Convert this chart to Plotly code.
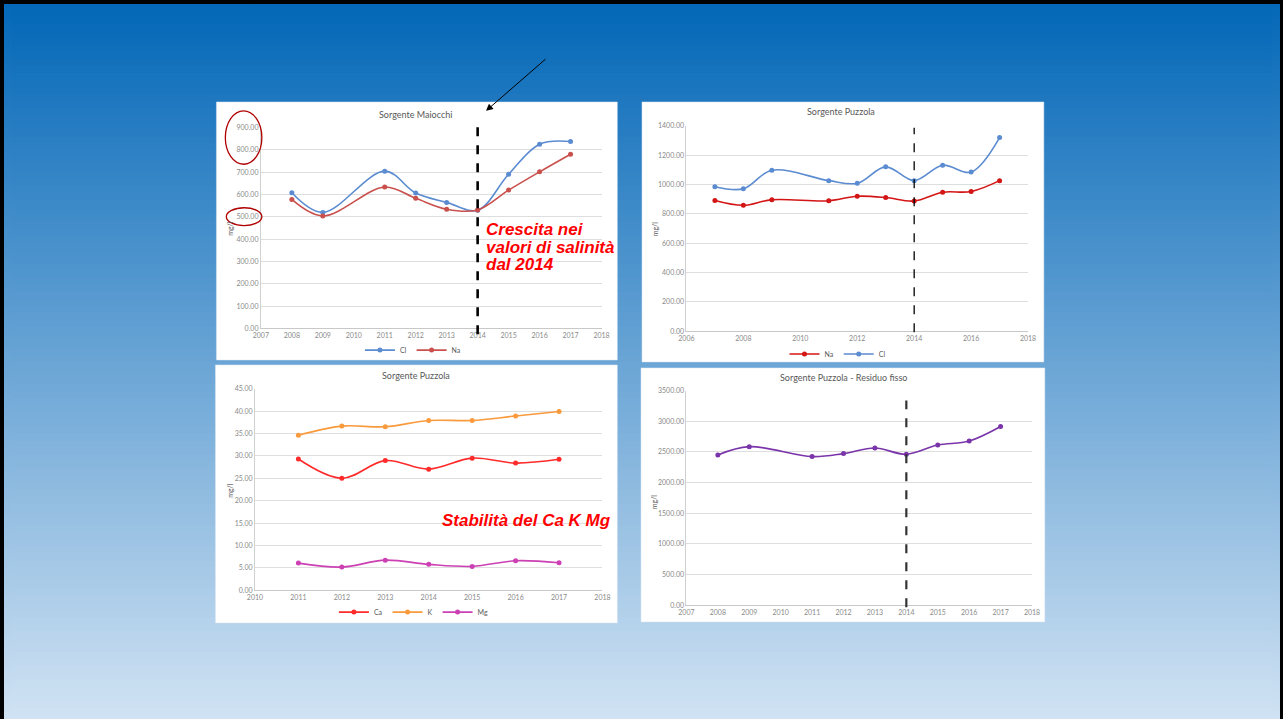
import plotly.graph_objects as go

# ---------------- data ----------------
BREAK_YEAR = 2014

# Sorgente Maiocchi
mai_years = [2008, 2009, 2011, 2012, 2013, 2014, 2015, 2016, 2017]
mai_cl = [608, 520, 705, 607, 565, 530, 691, 826, 838]
mai_na = [578, 504, 634, 583, 534, 531, 620, 702, 781]

# Sorgente Puzzola (Na, Cl)
puz_years = [2007, 2008, 2009, 2011, 2012, 2013, 2014, 2015, 2016, 2017]
puz_na = [891, 858, 896, 889, 920, 911, 887, 947, 952, 1026]
puz_cl = [985, 970, 1097, 1026, 1008, 1120, 1026, 1131, 1084, 1319]

# Sorgente Puzzola (Ca, K, Mg)
ion_years = [2011, 2012, 2013, 2014, 2015, 2016, 2017]
ion_ca = [29.3, 25.0, 28.95, 27.05, 29.5, 28.4, 29.25]
ion_k = [34.6, 36.65, 36.5, 37.9, 37.9, 38.9, 39.9]
ion_mg = [6.08, 5.2, 6.74, 5.8, 5.35, 6.6, 6.16]

# Sorgente Puzzola - Residuo fisso
res_years = [2008, 2009, 2011, 2012, 2013, 2014, 2015, 2016, 2017]
res_val = [2452, 2586, 2425, 2473, 2565, 2462, 2613, 2677, 2914]

# ---------------- layout helpers ----------------
# The page keeps the browser's default 8px body margin, so the figure is
# sized to fit inside it and positions are given in window pixels.
OFF = 8
W, H = 1283 - 2 * OFF, 719 - 2 * OFF

TOP_C = (4, 104, 184)
BOT_C = (208, 226, 243)


def fx(x):
    return (x - OFF) / W


def fy(y):
    return 1 - (y - OFF) / H


FONT = "Lato, 'Open Sans', sans-serif"
TICK_FONT = dict(family=FONT, size=7, color="#8a8a8a")

fig = go.Figure()


def add_series(x, y, name, color, xa, ya, legend, showlegend=True):
    fig.add_trace(go.Scatter(
        x=x, y=y, name=name, mode="lines+markers",
        line=dict(color=color, width=1.6, shape="spline", smoothing=1.0),
        marker=dict(color=color, size=5),
        xaxis=xa, yaxis=ya, legend=legend, showlegend=showlegend,
    ))


add_series(mai_years, mai_cl, "Cl", "#5b8bd0", "x", "y", "legend")
add_series(mai_years, mai_na, "Na", "#c9504d", "x", "y", "legend")

add_series(puz_years, puz_na, "Na", "#d41515", "x2", "y2", "legend2")
add_series(puz_years, puz_cl, "Cl", "#5b8bd0", "x2", "y2", "legend2")

add_series(ion_years, ion_ca, "Ca", "#ff2a2a", "x3", "y3", "legend3")
add_series(ion_years, ion_k, "K", "#f99a3c", "x3", "y3", "legend3")
add_series(ion_years, ion_mg, "Mg", "#cc40b4", "x3", "y3", "legend3")

add_series(res_years, res_val, "Residuo fisso", "#7a35aa", "x4", "y4", "legend4", showlegend=False)


def xaxis_cfg(left, right, rng, dtick, anchor):
    return dict(domain=[fx(left), fx(right)], range=rng, dtick=dtick, tick0=rng[0],
                showgrid=False, zeroline=False, showline=True, linecolor="#c8c8c8",
                linewidth=1, tickfont=TICK_FONT, ticks="", anchor=anchor,
                fixedrange=True)


def yaxis_cfg(top, bottom, rng, dtick, anchor):
    return dict(domain=[fy(bottom), fy(top)], range=rng, dtick=dtick, tick0=0,
                showgrid=True, gridcolor="#dedede", gridwidth=1, zeroline=False,
                showline=True, linecolor="#d0d0d0", linewidth=1,
                tickfont=TICK_FONT, tickformat=".2f", ticks="", anchor=anchor,
                fixedrange=True)


layout = dict(
    width=W, height=H, margin=dict(l=0, r=0, t=0, b=0),
    paper_bgcolor="rgba(0,0,0,0)", plot_bgcolor="rgba(0,0,0,0)",
    xaxis=xaxis_cfg(256, 601, [2007, 2018], 1, "y"),
    yaxis=yaxis_cfg(124, 327, [0, 900], 100, "x"),
    xaxis2=xaxis_cfg(687, 1033, [2006, 2018], 2, "y2"),
    yaxis2=yaxis_cfg(122, 330, [0, 1400], 200, "x2"),
    xaxis3=xaxis_cfg(250, 602, [2010, 2018], 1, "y3"),
    yaxis3=yaxis_cfg(388, 592, [0, 45], 5, "x3"),
    xaxis4=xaxis_cfg(687, 1037, [2007, 2018], 1, "y4"),
    yaxis4=yaxis_cfg(390, 607, [0, 3500], 500, "x4"),
)

legend_common = dict(orientation="h", xanchor="center", yanchor="middle",
                     font=dict(family=FONT, size=7, color="#595959"),
                     bgcolor="rgba(0,0,0,0)", itemwidth=30, tracegroupgap=0)
layout["legend"] = dict(legend_common, x=fx(410), y=fy(349))
layout["legend2"] = dict(legend_common, x=fx(840), y=fy(353))
layout["legend3"] = dict(legend_common, x=fx(411), y=fy(614))
layout["legend4"] = dict(legend_common, x=fx(846), y=fy(640), visible=False)

fig.update_layout(**layout)

# ---------------- background (slide gradient + panels) ----------------
shapes = []
y0, y1 = 4, 719
n = 100
for i in range(n):
    ya = y0 + (y1 - y0) * i / n
    yb = y0 + (y1 - y0) * (i + 1) / n
    t = ((ya + yb) / 2 - y0) / (y1 - y0)
    c = tuple(round(TOP_C[k] + (BOT_C[k] - TOP_C[k]) * t) for k in range(3))
    shapes.append(dict(type="rect", xref="paper", yref="paper", layer="below",
                       x0=fx(4), x1=fx(1280), y0=fy(min(yb + 3, 719)), y1=fy(ya),
                       fillcolor="rgb(%d,%d,%d)" % c, line=dict(width=0)))

panels = [(211, 98, 617, 359), (642, 98, 1049, 361), (210, 364, 617, 625), (641, 367, 1050, 624)]
for (a, b, c, d) in panels:
    shapes.append(dict(type="rect", xref="paper", yref="paper", layer="below",
                       x0=fx(a), x1=fx(c), y0=fy(d), y1=fy(b),
                       fillcolor="#ffffff", line=dict(width=0.5, color="#d8e4f0")))

# dashed break lines
shapes.append(dict(type="line", xref="x", yref="paper", x0=BREAK_YEAR, x1=BREAK_YEAR,
                   y0=fy(333), y1=fy(121), line=dict(color="#000000", width=2.6, dash="dash")))
shapes.append(dict(type="line", xref="x2", yref="paper", x0=BREAK_YEAR, x1=BREAK_YEAR,
                   y0=fy(331), y1=fy(124), line=dict(color="#000000", width=1.3, dash="dash")))
shapes.append(dict(type="line", xref="x4", yref="paper", x0=BREAK_YEAR, x1=BREAK_YEAR,
                   y0=fy(609), y1=fy(400), line=dict(color="#333333", width=2.2, dash="dash")))

# red ellipses around tick labels
shapes.append(dict(type="circle", xref="paper", yref="paper", x0=fx(220), x1=fx(257),
                   y0=fy(161), y1=fy(107), line=dict(color="#b00000", width=1.3)))
shapes.append(dict(type="circle", xref="paper", yref="paper", x0=fx(221), x1=fx(257),
                   y0=fy(223), y1=fy(205), line=dict(color="#b00000", width=1.3)))

fig.update_layout(shapes=shapes)

# ---------------- annotations ----------------
ann = []
TITLE_FONT = dict(family=FONT, size=9, color="#595959")
for (x, y, t) in [(413, 111, "Sorgente Maiocchi"), (844, 108, "Sorgente Puzzola"),
                  (413, 375, "Sorgente Puzzola"), (846, 377, "Sorgente Puzzola - Residuo fisso")]:
    ann.append(dict(xref="paper", yref="paper", x=fx(x), y=fy(y), text=t, showarrow=False,
                    xanchor="center", yanchor="middle", font=TITLE_FONT))
for (x, y) in [(224, 226), (655, 226), (224, 491), (655, 502)]:
    ann.append(dict(xref="paper", yref="paper", x=fx(x), y=fy(y), text="mg/l", showarrow=False,
                    textangle=-90, xanchor="center", yanchor="middle",
                    font=dict(family=FONT, size=7, color="#595959")))

RED_FONT = dict(family="Liberation Sans, Arial, sans-serif", size=17, color="#ff0000",
                weight="bold", style="italic")
for (y, t) in [(227, "Crescita nei"), (245, "valori di salinità"), (262, "dal 2014")]:
    ann.append(dict(xref="paper", yref="paper", x=fx(482), y=fy(y), text=t, showarrow=False,
                    xanchor="left", yanchor="middle", font=RED_FONT))
ann.append(dict(xref="paper", yref="paper", x=fx(437), y=fy(521), text="Stabilità del Ca K Mg",
                showarrow=False, xanchor="left", yanchor="middle", font=RED_FONT))

# arrow
ann.append(dict(xref="paper", yref="paper", x=fx(484), y=fy(107), ax=61, ay=-53, text="",
                showarrow=True, arrowhead=2, arrowsize=1.4, arrowwidth=1, arrowcolor="#000000"))

fig.update_layout(annotations=ann)

# page background behind the 8px body margin: same slide frame + gradient
page_bg = (
    "linear-gradient(to right,#000 0px,#000 4px,rgba(0,0,0,0) 4px,"
    "rgba(0,0,0,0) 1280px,#000 1280px),"
    "linear-gradient(to bottom,#000 0px,#000 4px,rgb(%d,%d,%d) 4px,rgb(%d,%d,%d) 719px)"
    % (TOP_C + BOT_C)
)
fig.write_html(
    "out.html",
    config={"displayModeBar": False},
    post_script="document.documentElement.style.background='%s';"
                "document.documentElement.style.minHeight='719px';" % page_bg,
)
